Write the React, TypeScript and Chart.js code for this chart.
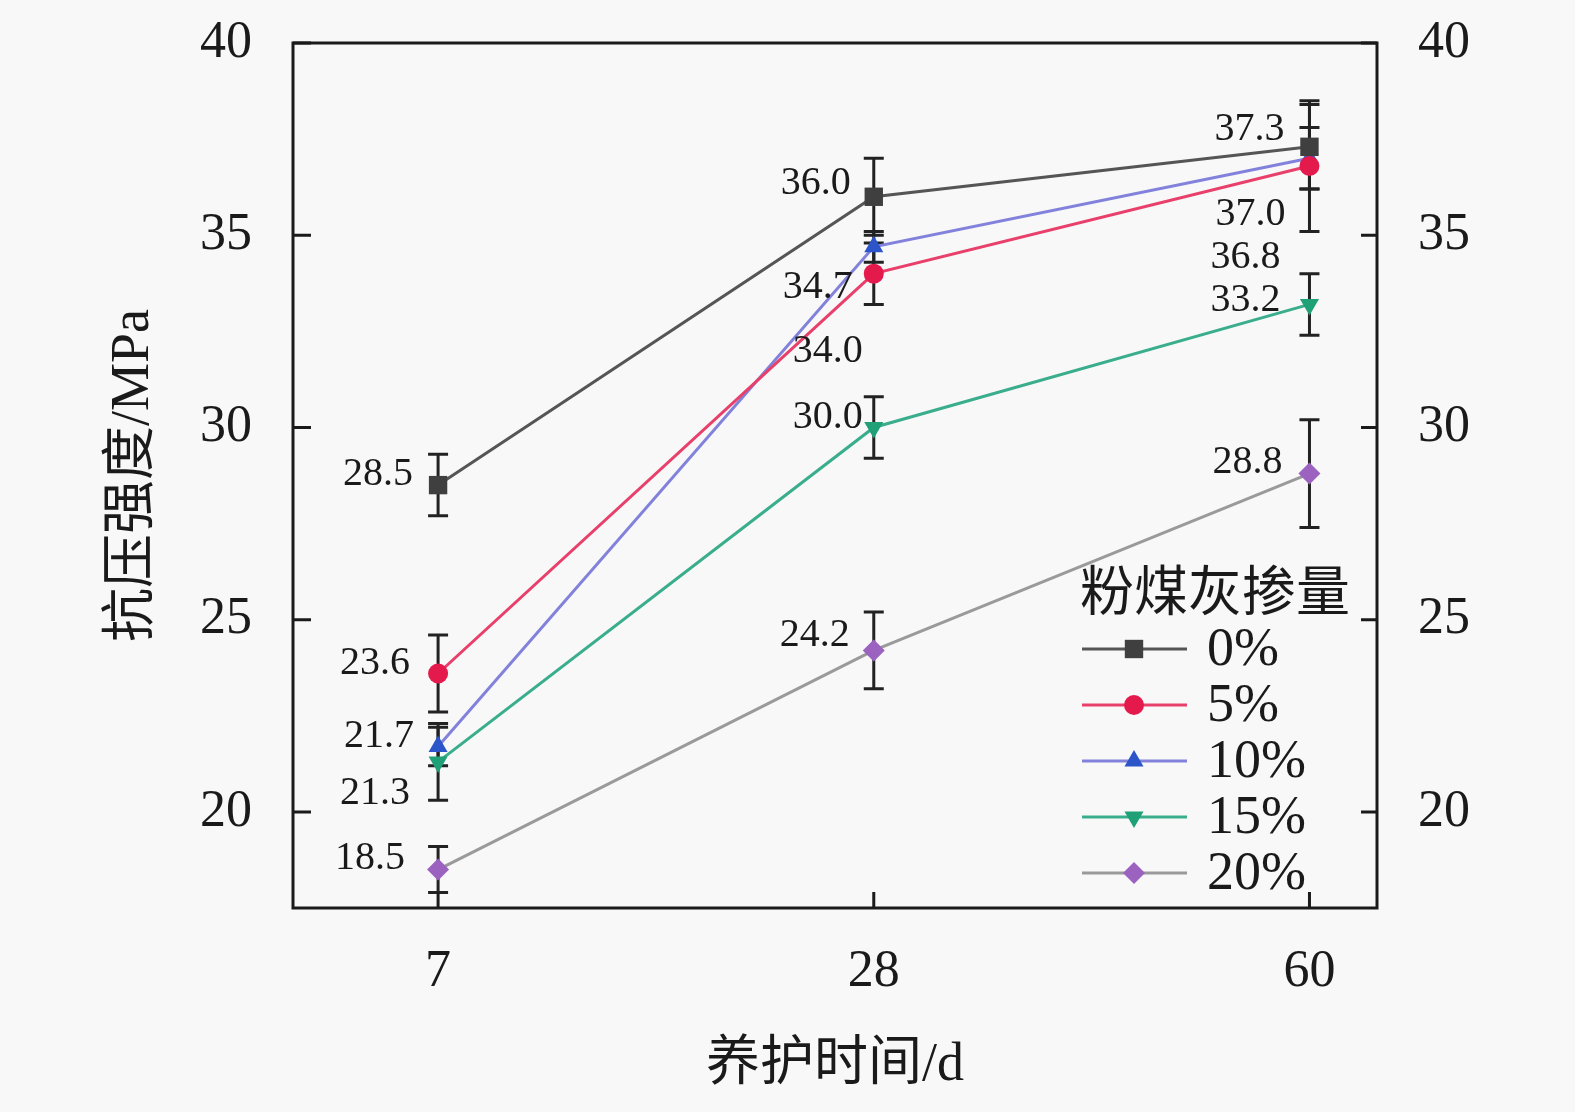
import React, { useEffect, useRef } from 'react';
import { Chart, registerables } from 'chart.js';

Chart.register(...registerables);

// ---- data ----
const days = ['7', '28', '60'];
const seriesNames = ['0%', '5%', '10%', '15%', '20%'];
const s0 = [28.5, 36.0, 37.3];
const s5 = [23.6, 34.0, 36.8];
const s10 = [21.7, 34.7, 37.0];
const s15 = [21.3, 30.0, 33.2];
const s20 = [18.5, 24.2, 28.8];
const err0 = [0.8, 1.0, 1.1];
const err5 = [1.0, 0.8, 1.7];
const err10 = [0.5, 0.4, 0.8];
const err15 = [1.0, 0.8, 0.8];
const err20 = [0.6, 1.0, 1.4];
const yTicks = [20, 25, 30, 35, 40];
const legendTitle = '粉煤灰掺量';
const xTitle = '养护时间/d';
const yTitle = '抗压强度/MPa';

const allSeries = [s0, s5, s10, s15, s20];
const allErrors = [err0, err5, err10, err15, err20];

// ---- styles ----
const lineColors = ['#555555', '#e8406a', '#8282dc', '#3aae8c', '#9a9a9a'];
const markerColors = ['#3f3f3f', '#e51a4c', '#2b55c9', '#1fa077', '#9b62c0'];
const pointStyles = ['rect', 'circle', 'triangle', 'triangle', 'rectRot'];
const pointRotations = [0, 0, 0, 180, 0];
const pointRadii = [13, 10, 11, 11, 11];
// label placement offsets (px) relative to each point: [dx, dy]
const labelOffsets = [
  [[-25, -11], [-23, -13], [-25, -17]],
  [[-28, -10], [-11, 78], [-29, 91]],
  [[-24, -10], [-21, 41], [-24, 56]],
  [[-28, 32], [-11, -10], [-29, -4]],
  [[-33, -11], [-24, -15], [-27, -11]],
];

const SERIF = "'Liberation Serif', 'Times New Roman', serif";
const CJK = "'Liberation Serif', 'Noto Sans CJK SC', serif";
const INK = '#1a1a1a';
const BG = '#f8f8f8';

function drawMarker(ctx: CanvasRenderingContext2D, style: string, rot: number, r: number, x: number, y: number) {
  ctx.beginPath();
  if (style === 'rect') {
    const s = Math.SQRT1_2 * r;
    ctx.rect(x - s, y - s, 2 * s, 2 * s);
  } else if (style === 'circle') {
    ctx.arc(x, y, r, 0, Math.PI * 2);
  } else if (style === 'triangle') {
    let a = (rot * Math.PI) / 180;
    ctx.moveTo(x + Math.sin(a) * r, y - Math.cos(a) * r);
    a += (2 * Math.PI) / 3;
    ctx.lineTo(x + Math.sin(a) * r, y - Math.cos(a) * r);
    a += (2 * Math.PI) / 3;
    ctx.lineTo(x + Math.sin(a) * r, y - Math.cos(a) * r);
    ctx.closePath();
  } else {
    ctx.moveTo(x, y - r);
    ctx.lineTo(x + r, y);
    ctx.lineTo(x, y + r);
    ctx.lineTo(x - r, y);
    ctx.closePath();
  }
  ctx.fill();
}

const bgPlugin = {
  id: 'bgFill',
  beforeDraw(chart: any) {
    const { ctx } = chart;
    ctx.save();
    ctx.fillStyle = BG;
    ctx.fillRect(0, 0, chart.width, chart.height);
    ctx.restore();
  },
};

const errorBarPlugin = {
  id: 'errorBars',
  beforeDatasetsDraw(chart: any) {
    const { ctx } = chart;
    const yScale = chart.scales.y;
    ctx.save();
    ctx.strokeStyle = '#222222';
    ctx.lineWidth = 3;
    chart.data.datasets.forEach((ds: any, i: number) => {
      const meta = chart.getDatasetMeta(i);
      meta.data.forEach((pt: any, j: number) => {
        const v = ds.data[j].y;
        const e = allErrors[i][j];
        const yt = yScale.getPixelForValue(v + e);
        const yb = yScale.getPixelForValue(v - e);
        const x = pt.x;
        ctx.beginPath();
        ctx.moveTo(x, yt);
        ctx.lineTo(x, yb);
        ctx.moveTo(x - 10, yt);
        ctx.lineTo(x + 10, yt);
        ctx.moveTo(x - 10, yb);
        ctx.lineTo(x + 10, yb);
        ctx.stroke();
      });
    });
    ctx.restore();
  },
};

const labelPlugin = {
  id: 'valueLabels',
  afterDatasetsDraw(chart: any) {
    const { ctx } = chart;
    ctx.save();
    ctx.font = `40px ${SERIF}`;
    ctx.fillStyle = INK;
    ctx.textAlign = 'right';
    ctx.textBaseline = 'middle';
    chart.data.datasets.forEach((ds: any, i: number) => {
      const meta = chart.getDatasetMeta(i);
      meta.data.forEach((pt: any, j: number) => {
        const [dx, dy] = labelOffsets[i][j];
        ctx.fillText(ds.data[j].y.toFixed(1), pt.x + dx, pt.y + dy);
      });
    });
    ctx.restore();
  },
};

const framePlugin = {
  id: 'frame',
  afterDraw(chart: any) {
    const { ctx, chartArea: a } = chart;
    const yScale = chart.scales.y;
    const xScale = chart.scales.x;
    ctx.save();
    ctx.strokeStyle = INK;
    ctx.lineWidth = 3;
    ctx.strokeRect(a.left, a.top, a.right - a.left, a.bottom - a.top);
    ctx.beginPath();
    yTicks.forEach((t) => {
      const y = yScale.getPixelForValue(t);
      ctx.moveTo(a.left, y);
      ctx.lineTo(a.left + 18, y);
      ctx.moveTo(a.right, y);
      ctx.lineTo(a.right - 16, y);
    });
    days.forEach((_, i) => {
      const x = xScale.getPixelForValue(i);
      ctx.moveTo(x, a.bottom);
      ctx.lineTo(x, a.bottom - 16);
    });
    ctx.stroke();

    // legend
    const lx0 = 1082;
    const lx1 = 1187;
    const lxm = 1134;
    const rowY0 = 649;
    const rowGap = 56;
    ctx.fillStyle = INK;
    ctx.font = `54px ${CJK}`;
    ctx.textAlign = 'center';
    ctx.textBaseline = 'middle';
    ctx.fillText(legendTitle, 1215, 597);
    seriesNames.forEach((name, i) => {
      const y = rowY0 + i * rowGap;
      ctx.strokeStyle = lineColors[i];
      ctx.lineWidth = 3;
      ctx.beginPath();
      ctx.moveTo(lx0, y);
      ctx.lineTo(lx1, y);
      ctx.stroke();
      ctx.fillStyle = markerColors[i];
      drawMarker(ctx, pointStyles[i], pointRotations[i], pointRadii[i], lxm, y);
      ctx.fillStyle = INK;
      ctx.font = `54px ${SERIF}`;
      ctx.textAlign = 'left';
      ctx.fillText(name, 1207, y + 2);
    });
    ctx.restore();
  },
};

export default function App() {
  const ref = useRef<HTMLCanvasElement | null>(null);
  useEffect(() => {
    document.body.style.margin = '0';
    document.body.style.background = BG;
    if (!ref.current) return;
    const datasets = allSeries.map((vals, i) => ({
      label: seriesNames[i],
      data: vals.map((v, j) => ({ x: j, y: v })),
      borderColor: lineColors[i],
      backgroundColor: markerColors[i],
      pointBackgroundColor: markerColors[i],
      pointBorderColor: markerColors[i],
      pointBorderWidth: 0,
      pointStyle: pointStyles[i],
      rotation: pointRotations[i],
      pointRadius: pointRadii[i],
      borderWidth: 3,
      tension: 0,
      fill: false,
    }));
    const tickFont = { family: SERIF, size: 52 };
    const chart = new Chart(ref.current, {
      type: 'line',
      data: { datasets },
      plugins: [bgPlugin, errorBarPlugin, labelPlugin, framePlugin],
      options: {
        animation: false,
        responsive: false,
        devicePixelRatio: 1,
        layout: { padding: { top: 43, left: 0, right: 0, bottom: 0 } },
        plugins: { legend: { display: false }, tooltip: { enabled: false } },
        scales: {
          x: {
            type: 'linear',
            min: -0.333,
            max: 2.155,
            afterBuildTicks: (s: any) => {
              s.ticks = days.map((_, i) => ({ value: i }));
            },
            afterFit: (s: any) => {
              s.height = 204;
              s.paddingLeft = 0;
              s.paddingRight = 0;
            },
            ticks: {
              callback: (v: any) => days[v],
              font: tickFont,
              color: INK,
              padding: 33,
              autoSkip: false,
              maxRotation: 0,
            },
            grid: { display: false, drawTicks: false },
            border: { display: false },
            title: {
              display: true,
              text: xTitle,
              font: { family: CJK, size: 54 },
              color: INK,
              padding: { top: 0, bottom: 14 },
            },
          },
          y: {
            position: 'left',
            min: 17.5,
            max: 40,
            afterBuildTicks: (s: any) => {
              s.ticks = yTicks.map((v) => ({ value: v }));
            },
            afterFit: (s: any) => {
              s.width = 293;
              s.paddingTop = 0;
              s.paddingBottom = 0;
            },
            ticks: { font: tickFont, color: INK, padding: 41 },
            grid: { display: false, drawTicks: false },
            border: { display: false },
            title: {
              display: true,
              text: yTitle,
              font: { family: CJK, size: 54 },
              color: INK,
              padding: { top: 101, bottom: 0 },
            },
          },
          y2: {
            position: 'right',
            min: 17.5,
            max: 40,
            afterBuildTicks: (s: any) => {
              s.ticks = yTicks.map((v) => ({ value: v }));
            },
            afterFit: (s: any) => {
              s.width = 198;
              s.paddingTop = 0;
              s.paddingBottom = 0;
            },
            ticks: { font: tickFont, color: INK, padding: 41 },
            grid: { display: false, drawTicks: false },
            border: { display: false },
          },
        },
      } as any,
    });
    return () => chart.destroy();
  }, []);
  return (
    <div style={{ width: 1575, height: 1112, overflow: 'hidden' }}>
      <canvas ref={ref} width={1575} height={1112} style={{ width: 1575, height: 1112, display: 'block' }} />
    </div>
  );
}
